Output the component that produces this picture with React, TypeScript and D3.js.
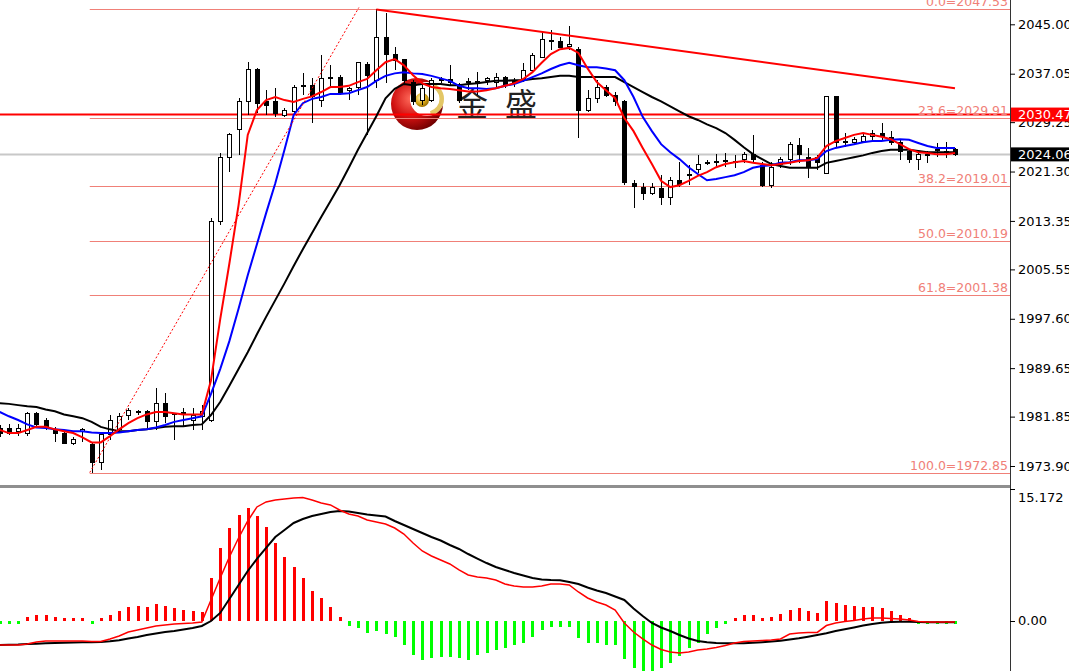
import { useEffect, useRef } from "react";
import * as d3 from "d3";

// candles, one per bar (index 0 = leftmost)
const OPEN = [
  1980.0, 1980.0, 1979.4, 1979.2, 1982.3, 1981.3, 1979.7, 1979.2, 1977.6, 1979.5,
  1977.3, 1974.4, 1978.9, 1979.7, 1982.0, 1982.6, 1982.6, 1981.0, 1984.0, 1982.4,
  1982.5, 1981.3, 1981.9, 1981.3, 2013.2, 2023.6, 2028.0, 2032.5, 2037.8, 2032.6,
  2032.5, 2030.4, 2030.9, 2035.0, 2035.1, 2032.8, 2036.4, 2036.4, 2034.3, 2034.9,
  2038.6, 2036.0, 2042.9, 2040.2, 2039.3, 2035.7, 2032.8, 2032.8, 2036.0, 2036.1,
  2035.3, 2035.6, 2035.8, 2035.9, 2035.7, 2036.5, 2035.6, 2036.0, 2037.5, 2039.7,
  2042.3, 2042.3, 2041.5, 2040.9, 2031.2, 2033.1, 2034.9, 2033.6, 2032.5, 2019.3,
  2018.8, 2017.8, 2018.5, 2017.2, 2019.8, 2020.7, 2021.7, 2022.6, 2022.8, 2023.0,
  2022.8, 2023.2, 2024.1, 2022.3, 2019.0, 2022.4, 2023.3, 2025.5, 2023.6, 2023.5,
  2021.0, 2033.3, 2026.1, 2026.0, 2026.2, 2027.0, 2027.5, 2026.7, 2025.9, 2024.5,
  2023.3, 2024.0, 2024.7, 2024.4, 2024.8,
];
const HIGH = [
  1980.5, 1980.6, 1980.6, 1982.6, 1982.6, 1981.6, 1980.2, 1979.4, 1978.5, 1980.0,
  1977.6, 1979.2, 1982.1, 1982.4, 1983.2, 1982.9, 1982.9, 1986.4, 1985.6, 1982.5,
  1983.3, 1983.3, 1983.7, 2013.8, 2024.3, 2027.5, 2033.2, 2038.9, 2038.0, 2034.4,
  2034.7, 2031.5, 2035.2, 2037.2, 2036.4, 2040.1, 2038.4, 2036.8, 2034.9, 2038.9,
  2038.9, 2047.53, 2046.8, 2041.3, 2039.3, 2036.0, 2035.2, 2036.4, 2036.5, 2038.4,
  2035.5, 2036.4, 2037.3, 2036.5, 2037.1, 2036.7, 2036.4, 2038.8, 2040.4, 2043.8,
  2044.1, 2043.0, 2044.7, 2041.3, 2034.4, 2036.0, 2035.2, 2034.1, 2032.8, 2019.9,
  2019.5, 2019.5, 2020.7, 2020.4, 2022.8, 2022.4, 2024.0, 2023.2, 2024.1, 2024.3,
  2024.0, 2024.4, 2027.2, 2022.8, 2022.8, 2023.6, 2026.1, 2026.7, 2025.1, 2024.0,
  2033.3, 2033.3, 2027.5, 2026.9, 2027.5, 2028.0, 2029.1, 2027.8, 2026.4, 2024.8,
  2024.3, 2024.6, 2025.9, 2026.0, 2025.1,
];
const LOW = [
  1978.6, 1978.9, 1978.8, 1978.7, 1980.0, 1979.7, 1977.7, 1977.4, 1977.2, 1977.8,
  1972.85, 1973.2, 1978.1, 1979.2, 1981.3, 1982.1, 1979.7, 1979.7, 1980.8, 1978.1,
  1980.2, 1979.7, 1979.7, 1981.0, 2012.7, 2021.2, 2024.0, 2030.4, 2030.7, 2030.4,
  2030.1, 2030.1, 2030.7, 2033.6, 2029.1, 2031.7, 2034.7, 2033.6, 2032.8, 2033.6,
  2027.2, 2034.7, 2035.5, 2037.6, 2035.5, 2032.0, 2032.0, 2032.5, 2035.5, 2035.2,
  2032.3, 2034.4, 2033.6, 2035.2, 2034.9, 2034.7, 2034.9, 2035.7, 2037.3, 2039.6,
  2040.9, 2041.2, 2040.9, 2026.7, 2030.9, 2032.3, 2033.3, 2031.8, 2019.1, 2015.4,
  2016.7, 2017.5, 2015.9, 2015.9, 2018.8, 2019.1, 2021.1, 2022.4, 2021.9, 2022.0,
  2021.9, 2022.6, 2022.6, 2018.8, 2018.7, 2021.9, 2022.4, 2022.6, 2020.3, 2021.5,
  2021.0, 2025.1, 2025.3, 2025.6, 2025.9, 2026.4, 2026.4, 2025.6, 2023.2, 2022.7,
  2021.5, 2022.6, 2023.6, 2023.5, 2023.8,
];
const CLOSE = [
  1979.2, 1979.2, 1980.0, 1982.4, 1980.5, 1980.2, 1979.2, 1977.6, 1978.1, 1979.7,
  1974.4, 1978.9, 1981.3, 1981.8, 1982.9, 1982.5, 1981.0, 1984.0, 1981.8, 1982.3,
  1982.4, 1982.1, 1982.7, 2013.2, 2023.6, 2027.2, 2032.5, 2037.8, 2032.3, 2032.0,
  2030.7, 2031.2, 2034.9, 2035.1, 2033.3, 2036.2, 2036.3, 2033.9, 2034.6, 2038.8,
  2036.8, 2042.9, 2040.1, 2039.1, 2036.0, 2032.5, 2034.7, 2036.0, 2036.1, 2035.6,
  2032.8, 2035.8, 2035.7, 2036.2, 2036.5, 2035.1, 2035.8, 2037.5, 2039.9, 2042.5,
  2042.4, 2041.3, 2041.8, 2031.2, 2033.1, 2034.9, 2033.6, 2032.5, 2019.5, 2018.9,
  2017.8, 2018.8, 2017.2, 2019.8, 2019.2, 2020.8, 2022.5, 2022.7, 2022.9, 2023.0,
  2022.9, 2024.1, 2023.3, 2019.0, 2022.0, 2023.3, 2025.7, 2024.1, 2022.0, 2022.8,
  2033.3, 2026.0, 2026.0, 2026.4, 2027.0, 2027.5, 2026.9, 2026.0, 2024.5, 2023.2,
  2024.0, 2024.1, 2024.8, 2024.5, 2024.06,
];

// moving averages
const MA_RED = [
  1979.7, 1979.2, 1979.2, 1979.7, 1980.2, 1980.2, 1979.8, 1979.5, 1979.2, 1978.5,
  1977.7, 1977.7, 1978.7, 1979.8, 1980.8, 1981.6, 1982.2, 1982.6, 1982.6, 1982.4,
  1982.2, 1982.2, 1982.2, 1987.7, 1997.5, 2006.5, 2015.9, 2027.2, 2031.2, 2032.8,
  2033.3, 2032.8, 2032.5, 2033.0, 2033.4, 2034.1, 2034.9, 2034.9, 2035.1, 2035.7,
  2036.2, 2037.6, 2038.9, 2039.4, 2038.4, 2036.8, 2035.5, 2034.9, 2034.7, 2034.6,
  2034.4, 2034.2, 2034.2, 2034.4, 2034.7, 2035.1, 2035.5, 2036.2, 2037.3, 2038.8,
  2040.2, 2041.0, 2041.2, 2040.4, 2037.9, 2035.7, 2034.4, 2033.1, 2029.9, 2027.8,
  2025.1, 2022.5, 2019.8, 2018.8, 2019.1, 2019.8, 2020.6, 2021.2, 2022.0, 2022.5,
  2022.8, 2023.0, 2022.7, 2022.5, 2022.3, 2022.5, 2022.7, 2023.0, 2023.1, 2023.5,
  2025.4, 2026.2, 2026.7, 2027.2, 2027.5, 2027.2, 2026.9, 2026.5, 2025.7, 2024.9,
  2024.4, 2024.3, 2024.1, 2024.1, 2024.3,
];
const MA_BLUE = [
  1982.6, 1981.9, 1981.3, 1980.6, 1980.1, 1980.0, 1979.8, 1979.7, 1979.5, 1979.5,
  1979.3, 1979.2, 1979.2, 1979.3, 1979.5, 1979.7, 1979.8, 1980.1, 1980.5, 1981.0,
  1981.3, 1981.6, 1981.9, 1985.5, 1989.5, 1994.0, 1999.2, 2004.6, 2009.6, 2014.6,
  2019.4, 2024.8, 2030.4, 2032.3, 2033.0, 2033.3, 2033.8, 2033.8, 2033.9, 2034.4,
  2034.9, 2035.9, 2036.7, 2037.1, 2037.3, 2037.1, 2037.0, 2036.7, 2036.3, 2035.9,
  2035.1, 2034.7, 2034.7, 2034.6, 2034.7, 2035.1, 2035.4, 2035.9, 2036.5, 2037.1,
  2037.8, 2038.4, 2038.8, 2038.4, 2038.1, 2038.1, 2037.9, 2037.6, 2036.0, 2033.3,
  2030.1, 2027.8, 2025.7, 2024.4, 2023.3, 2022.0, 2020.9, 2019.9, 2020.1, 2020.4,
  2020.7, 2021.2, 2021.9, 2022.2, 2022.3, 2022.7, 2022.8, 2023.1, 2023.1, 2023.3,
  2024.6, 2025.1, 2025.4, 2025.7, 2026.0, 2026.2, 2026.2, 2026.4, 2026.5, 2026.4,
  2025.9, 2025.4, 2025.1, 2025.1, 2025.1,
];
const MA_BLACK = [
  1984.0, 1983.9, 1983.7, 1983.5, 1983.4, 1983.0, 1982.7, 1982.2, 1981.9, 1981.6,
  1981.0, 1980.2, 1979.8, 1979.5, 1979.5, 1979.7, 1979.8, 1980.0, 1980.2, 1980.3,
  1980.3, 1980.5, 1980.6, 1982.1, 1984.2, 1986.8, 1989.5, 1992.2, 1995.1, 1997.9,
  2000.6, 2003.3, 2006.1, 2008.8, 2011.4, 2014.0, 2016.5, 2019.1, 2021.9, 2024.8,
  2027.5, 2030.2, 2033.1, 2034.6, 2035.4, 2035.2, 2035.4, 2035.4, 2035.4, 2035.2,
  2035.2, 2035.4, 2035.5, 2035.7, 2035.9, 2035.9, 2036.0, 2036.0, 2036.2, 2036.3,
  2036.5, 2036.7, 2036.7, 2036.5, 2036.5, 2036.5, 2036.5, 2036.5, 2035.7, 2034.9,
  2034.1, 2033.3, 2032.6, 2031.8, 2031.0, 2030.2, 2029.6, 2028.9, 2028.3, 2027.5,
  2026.4, 2025.2, 2024.1, 2023.3, 2022.5, 2022.2, 2021.9, 2021.9, 2021.9, 2021.9,
  2022.7, 2023.0, 2023.3, 2023.6, 2023.9, 2024.3, 2024.6, 2024.8, 2024.8, 2024.8,
  2024.6, 2024.4, 2024.4, 2024.4, 2024.4,
];

// MACD panel
const MACD_LINE = [
  -2.83, -2.83, -2.83, -2.71, -2.48, -2.37, -2.37, -2.37, -2.37, -2.37,
  -2.42, -2.42, -2.13, -1.79, -1.33, -1.1, -0.87, -0.63, -0.52, -0.4,
  -0.35, -0.29, -0.17, 2.37, 4.9, 7.33, 9.52, 11.48, 13.1, 13.68,
  13.91, 14.02, 14.14, 14.19, 13.91, 13.56, 13.33, 12.75, 12.29, 12.06,
  11.6, 11.37, 11.14, 10.67, 9.98, 8.94, 8.02, 7.44, 6.98, 6.52,
  5.83, 5.25, 5.02, 4.9, 4.67, 4.21, 3.98, 3.86, 3.86, 3.98,
  4.21, 4.21, 4.1, 3.29, 2.6, 2.13, 1.79, 1.21, -0.29, -1.33,
  -2.13, -2.83, -3.35, -3.63, -3.75, -3.63, -3.4, -3.29, -3.12, -2.88,
  -2.6, -2.42, -2.37, -2.31, -2.25, -2.13, -1.56, -1.44, -1.38, -1.38,
  -0.58, -0.29, -0.12, 0.0, 0.17, 0.29, 0.29, 0.23, 0.17, 0.06,
  -0.12, -0.17, -0.17, -0.17, -0.17,
];
const SIGNAL_LINE = [
  -2.83, -2.79, -2.77, -2.71, -2.68, -2.63, -2.6, -2.56, -2.54, -2.52,
  -2.52, -2.48, -2.4, -2.28, -2.08, -1.9, -1.67, -1.5, -1.33, -1.21,
  -1.04, -0.87, -0.63, -0.06, 0.87, 2.48, 4.1, 5.71, 7.1, 8.37,
  9.63, 10.44, 11.25, 11.71, 12.06, 12.29, 12.52, 12.64, 12.58, 12.41,
  12.23, 12.12, 12.0, 11.48, 11.02, 10.56, 10.1, 9.63, 9.23, 8.71,
  8.25, 7.67, 7.15, 6.63, 6.17, 5.83, 5.48, 5.19, 4.9, 4.73,
  4.67, 4.64, 4.44, 4.21, 3.81, 3.46, 3.17, 2.77, 2.37, 1.38,
  0.52, -0.29, -0.81, -1.21, -1.67, -2.08, -2.37, -2.52, -2.6, -2.63,
  -2.63, -2.62, -2.57, -2.5, -2.42, -2.33, -2.19, -2.05, -1.87, -1.67,
  -1.48, -1.21, -1.02, -0.81, -0.58, -0.4, -0.25, -0.17, -0.14, -0.15,
  -0.17, -0.2, -0.21, -0.21, -0.21,
];
const HISTOGRAM = [
  -0.1, -0.1, -0.1, 0.44, 0.63, 0.63, 0.44, 0.25, 0.25, 0.25,
  -0.3, 0.15, 0.63, 1.1, 1.59, 1.65, 1.59, 1.9, 1.65, 1.45,
  1.2, 1.12, 0.98, 4.87, 8.4, 10.64, 12.17, 12.95, 12.06, 10.75,
  8.98, 7.29, 6.21, 4.94, 3.44, 2.56, 1.59, 0.44, -0.63, -0.9,
  -1.41, -1.18, -1.56, -1.94, -2.83, -3.98, -4.56, -4.36, -4.25, -4.18,
  -4.36, -4.56, -3.98, -3.72, -3.4, -3.21, -2.83, -2.56, -1.94, -1.1,
  -0.78, -0.72, -0.78, -2.05, -2.56, -2.63, -2.83, -2.83, -4.48, -5.45,
  -6.0, -5.9, -5.52, -4.87, -4.1, -3.15, -2.55, -1.5, -0.85, -0.35,
  0.1, 0.63, 0.63, 0.17, 0.4, 0.75, 1.21, 1.41, 1.15, 0.9,
  2.28, 1.98, 1.79, 1.67, 1.59, 1.59, 1.41, 1.1, 0.63, 0.14,
  -0.08, -0.08, -0.08, -0.08, -0.08,
];

const PRICE_TICKS = [2045.0, 2037.05, 2029.25, 2021.3, 2013.35, 2005.55, 1997.6, 1989.65, 1981.85, 1973.9];
const MACD_TICKS = [15.172, 0];
const FIB_LEVELS = [0.0, 23.6, 38.2, 50.0, 61.8, 100.0];
const FIB_PRICES = [2047.53, 2029.91, 2019.01, 2010.19, 2001.38, 1972.85];
const FIB_ANCHORS = [
  { bar: 9.8, price: 1972.85 },
  { bar: 39.1, price: 2047.7 },
];
const TREND_LINE = [
  { bar: 41, price: 2047.4 },
  { bar: 104, price: 2034.7 },
];
const HLINE_PRICE = 2030.47;
const LAST_PRICE = 2024.06;

const W = 1069;
const H = 671;
const AXIS_X = 1010;
const FIB_COLOR = "#f08078";
const FONT = "DejaVu Sans, Verdana, sans-serif";

export default function App() {
  const ref = useRef<SVGSVGElement>(null);

  useEffect(() => {
    if (!ref.current) return;
    const svg = d3.select(ref.current);
    svg.selectAll("*").remove();

    const n = CLOSE.length;
    const idx = d3.range(n);
    const x = d3.scaleLinear().domain([0, n - 1]).range([-0.26, 955]);
    const y = d3.scaleLinear().domain([1973.9, 2045.0]).range([466, 24.3]);
    const ym = d3.scaleLinear().domain([0, 15.172]).range([620.5, 489]);
    const px = (i: number) => Math.round(x(i)) + 0.5;
    const py = (p: number) => Math.round(y(p)) + 0.5;

    const defs = svg.append("defs");
    defs.append("clipPath").attr("id", "clip-main")
      .append("rect").attr("x", 0).attr("y", 0).attr("width", AXIS_X).attr("height", 485);
    defs.append("clipPath").attr("id", "clip-macd")
      .append("rect").attr("x", 0).attr("y", 488).attr("width", AXIS_X).attr("height", H - 488);

    const redGrad = defs.append("radialGradient").attr("id", "logo-red")
      .attr("cx", "38%").attr("cy", "40%").attr("r", "65%");
    redGrad.append("stop").attr("offset", "0%").attr("stop-color", "#ff6a5a");
    redGrad.append("stop").attr("offset", "55%").attr("stop-color", "#d01010");
    redGrad.append("stop").attr("offset", "100%").attr("stop-color", "#6e0000");
    const goldGrad = defs.append("radialGradient").attr("id", "logo-gold")
      .attr("cx", "40%").attr("cy", "35%").attr("r", "65%");
    goldGrad.append("stop").attr("offset", "0%").attr("stop-color", "#fff7c0");
    goldGrad.append("stop").attr("offset", "55%").attr("stop-color", "#e0b020");
    goldGrad.append("stop").attr("offset", "100%").attr("stop-color", "#9a7000");

    svg.append("rect").attr("width", W).attr("height", H).attr("fill", "#fff");

    const main = svg.append("g").attr("clip-path", "url(#clip-main)");

    // watermark logo
    const logo = main.append("g").attr("transform", "translate(417,104)");
    logo.append("circle").attr("r", 26).attr("fill", "url(#logo-red)");
    logo.append("circle").attr("cx", 10).attr("cy", -5).attr("r", 17).attr("fill", "#fff");
    logo.append("path")
      .attr("transform", "translate(10,-5)")
      .attr("d", d3.arc()({ innerRadius: 12.5, outerRadius: 17, startAngle: 0.2, endAngle: 2.9 }) as string)
      .attr("fill", "#e3c766");
    logo.append("circle").attr("cx", 5).attr("cy", -4).attr("r", 7).attr("fill", "url(#logo-gold)");
    main.append("g")
      .selectAll("text")
      .data(["金", "盛"])
      .join("text")
      .attr("x", (_, k) => 472 + k * 49)
      .attr("y", 116)
      .attr("text-anchor", "middle")
      .style("font-family", "Noto Sans CJK SC")
      .style("font-size", "32px")
      .style("fill", "#222")
      .text((d) => d);

    // fibonacci levels
    const fibX0 = x(FIB_ANCHORS[0].bar);
    main.append("g")
      .selectAll("line")
      .data(FIB_PRICES)
      .join("line")
      .attr("x1", fibX0)
      .attr("x2", AXIS_X)
      .attr("y1", (p) => py(p))
      .attr("y2", (p) => py(p))
      .attr("stroke", FIB_COLOR)
      .attr("stroke-width", 1);

    // current price line and horizontal line
    main.append("line")
      .attr("x1", 0).attr("x2", AXIS_X)
      .attr("y1", y(LAST_PRICE)).attr("y2", y(LAST_PRICE))
      .attr("stroke", "#c8c8c8").attr("stroke-width", 2);
    main.append("line")
      .attr("x1", 0).attr("x2", AXIS_X)
      .attr("y1", y(HLINE_PRICE)).attr("y2", y(HLINE_PRICE))
      .attr("stroke", "#ff0000").attr("stroke-width", 2);

    main.append("g")
      .selectAll("text")
      .data(FIB_PRICES)
      .join("text")
      .attr("x", 1008)
      .attr("y", (p) => y(p) - 3)
      .attr("text-anchor", "end")
      .style("font-family", FONT)
      .style("font-size", "12.5px")
      .style("fill", FIB_COLOR)
      .text((p, k) => `${FIB_LEVELS[k].toFixed(1)}=${p.toFixed(2)}`);

    // candles
    const candles = main.append("g").attr("shape-rendering", "crispEdges");
    candles.selectAll("line")
      .data(idx)
      .join("line")
      .attr("x1", px).attr("x2", px)
      .attr("y1", (i) => y(HIGH[i]))
      .attr("y2", (i) => y(LOW[i]))
      .attr("stroke", "#000");
    candles.selectAll("rect")
      .data(idx)
      .join("rect")
      .attr("x", (i) => px(i) - 2)
      .attr("width", 4)
      .attr("y", (i) => y(Math.max(OPEN[i], CLOSE[i])))
      .attr("height", (i) => Math.max(1, Math.abs(y(OPEN[i]) - y(CLOSE[i]))))
      .attr("fill", (i) => (CLOSE[i] > OPEN[i] ? "#fff" : "#000"))
      .attr("stroke", "#000");

    // moving averages
    const maLine = d3.line<number>().x((_, i) => x(i)).y((d) => y(d));
    [
      { data: MA_BLACK, color: "#000" },
      { data: MA_BLUE, color: "#0000ff" },
      { data: MA_RED, color: "#ff0000" },
    ].forEach((s) => {
      main.append("path")
        .attr("d", maLine(s.data))
        .attr("fill", "none")
        .attr("stroke", s.color)
        .attr("stroke-width", 2);
    });

    // fib anchor line and trend line
    main.append("line")
      .attr("x1", x(FIB_ANCHORS[0].bar)).attr("y1", y(FIB_ANCHORS[0].price))
      .attr("x2", x(FIB_ANCHORS[1].bar)).attr("y2", y(FIB_ANCHORS[1].price))
      .attr("stroke", "#ff0000").attr("stroke-width", 1).attr("stroke-dasharray", "2,2");
    main.append("line")
      .attr("x1", x(TREND_LINE[0].bar)).attr("y1", y(TREND_LINE[0].price))
      .attr("x2", x(TREND_LINE[1].bar)).attr("y2", y(TREND_LINE[1].price))
      .attr("stroke", "#ff0000").attr("stroke-width", 2);

    // MACD panel
    const macd = svg.append("g").attr("clip-path", "url(#clip-macd)");
    macd.append("g")
      .attr("shape-rendering", "crispEdges")
      .selectAll("rect")
      .data(idx)
      .join("rect")
      .attr("x", (i) => Math.round(x(i)) - 1)
      .attr("width", 3)
      .attr("y", (i) => {
        const h = Math.max(3, Math.abs(ym(HISTOGRAM[i]) - ym(0)));
        return HISTOGRAM[i] >= 0 ? ym(0) - h : ym(0);
      })
      .attr("height", (i) => Math.max(3, Math.abs(ym(HISTOGRAM[i]) - ym(0))))
      .attr("fill", (i) => (HISTOGRAM[i] >= 0 ? "#ff0000" : "#00ff00"));

    const macdLine = d3.line<number>().x((_, i) => x(i)).y((d) => ym(d));
    macd.append("path")
      .attr("d", macdLine(SIGNAL_LINE))
      .attr("fill", "none").attr("stroke", "#000").attr("stroke-width", 2);
    macd.append("path")
      .attr("d", macdLine(MACD_LINE))
      .attr("fill", "none").attr("stroke", "#ff0000").attr("stroke-width", 1.5);

    // panel separator and axis line
    svg.append("rect").attr("x", 0).attr("y", 485).attr("width", AXIS_X).attr("height", 3).attr("fill", "#8f8f8f");
    svg.append("line")
      .attr("x1", AXIS_X + 0.5).attr("x2", AXIS_X + 0.5)
      .attr("y1", 0).attr("y2", H)
      .attr("stroke", "#333");

    // price axis
    const priceAxis = svg.append("g")
      .attr("transform", `translate(${AXIS_X},0)`)
      .call(d3.axisRight(y).tickValues(PRICE_TICKS).tickSize(5).tickPadding(3).tickFormat(d3.format(".2f")));
    priceAxis.select(".domain").remove();
    priceAxis.selectAll("text").style("font-family", FONT).style("font-size", "13px").style("fill", "#000");

    // price boxes
    [
      { price: HLINE_PRICE, bg: "#ff0000" },
      { price: LAST_PRICE, bg: "#000" },
    ].forEach((b) => {
      svg.append("rect")
        .attr("x", AXIS_X + 1).attr("y", y(b.price) - 7)
        .attr("width", W - AXIS_X).attr("height", 14)
        .attr("fill", b.bg);
      svg.append("text")
        .attr("x", AXIS_X + 8).attr("y", y(b.price)).attr("dy", "0.36em")
        .style("font-family", FONT).style("font-size", "13px").style("fill", "#fff")
        .text(b.price.toFixed(2));
    });

    // MACD axis
    const macdAxis = svg.append("g");
    macdAxis.selectAll("line")
      .data(MACD_TICKS)
      .join("line")
      .attr("x1", AXIS_X).attr("x2", AXIS_X + 5)
      .attr("y1", (v) => Math.round(ym(v)) + 0.5).attr("y2", (v) => Math.round(ym(v)) + 0.5)
      .attr("stroke", "#000");
    macdAxis.selectAll("text")
      .data(MACD_TICKS)
      .join("text")
      .attr("x", AXIS_X + 8)
      .attr("y", (v) => (v > 0 ? ym(v) + 8 : ym(v)))
      .attr("dy", "0.36em")
      .style("font-family", FONT).style("font-size", "13px").style("fill", "#000")
      .text((v) => (v > 0 ? v.toFixed(3) : v.toFixed(2)));
  }, []);

  return (
    <svg
      ref={ref}
      width={W}
      height={H}
      style={{ position: "absolute", left: 0, top: 0, display: "block" }}
    />
  );
}
